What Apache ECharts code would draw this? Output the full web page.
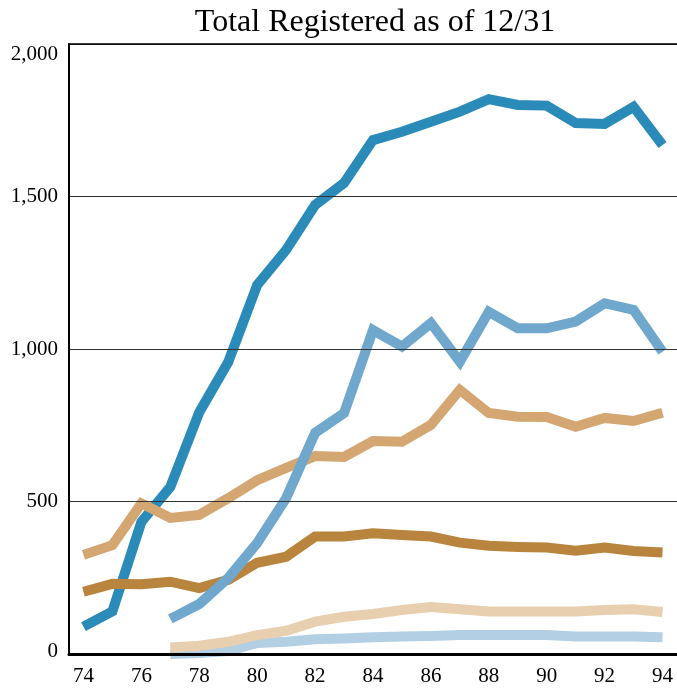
<!DOCTYPE html>
<html>
<head>
<meta charset="utf-8">
<script src="https://cdn.jsdelivr.net/npm/echarts@6/dist/echarts.min.js"></script>
<style>html,body{margin:0;padding:0;background:#fff}#c{width:677px;height:690px}</style>
</head>
<body>
<div id="c"></div>
<script>
var years = ['74','75','76','77','78','79','80','81','82','83','84','85','86','87','88','89','90','91','92','93','94'];
var yTicks = [0, 500, 1000, 1500, 2000];
var darkBlue  = [90, 140, 433, 548, 793, 957, 1210, 1325, 1472, 1544, 1685, 1712, 1745, 1778, 1819, 1800, 1798, 1741, 1738, 1794, 1669];
var tan       = [325, 357, 494, 446, 456, 511, 570, 610, 649, 646, 698, 696, 751, 866, 790, 778, 777, 745, 774, 764, 791];
var brown     = [204, 230, 229, 237, 216, 243, 299, 319, 385, 385, 396, 390, 385, 365, 355, 351, 349, 339, 349, 338, 333];
var midBlue   = [null, null, null, 115, 164, 249, 364, 511, 725, 790, 1062, 1008, 1085, 958, 1122, 1068, 1068, 1090, 1150, 1128, 991];
var lightBlue = [null, null, null, 0, 3, 10, 36, 40, 48, 51, 55, 57, 59, 62, 62, 62, 62, 57, 57, 57, 55];
var lightTan  = [null, null, null, 21, 27, 40, 62, 76, 106, 122, 131, 144, 154, 147, 139, 139, 139, 139, 144, 147, 138];

var FONT = '"Liberation Serif", "DejaVu Serif", serif';
function mk(name, data, color) {
  return { name: name, type: 'line', data: data, symbol: 'none', showSymbol: false,
    lineStyle: { color: color, width: 10, cap: 'butt', join: 'miter' }, silent: true, animation: false };
}
var chart = echarts.init(document.getElementById('c'), null, { renderer: 'canvas' });
chart.setOption({
  animation: false,
  backgroundColor: '#fff',
  title: { text: 'Total Registered as of 12/31', left: 370, textAlign: 'center', top: 2,
    textStyle: { fontFamily: FONT, fontSize: 32, fontWeight: 'normal', color: '#000' } },
  grid: { left: 69, right: 0, top: 44, bottom: 36, containLabel: false },
  xAxis: [{
    type: 'category', data: years, boundaryGap: true,
    axisLine: { show: true, lineStyle: { color: '#000', width: 3 } },
    axisTick: { show: false },
    axisLabel: { interval: 1, fontFamily: FONT, fontSize: 21, color: '#000', margin: 12 },
    splitLine: { show: false }, z: 5
  }, {
    type: 'category', data: years, position: 'top',
    axisLine: { show: true, onZero: false, lineStyle: { color: '#000', width: 1.5 } },
    axisTick: { show: false }, axisLabel: { show: false }, z: 5
  }],
  yAxis: {
    type: 'value', min: 0, max: 2000, interval: 500,
    axisLine: { show: true, lineStyle: { color: '#000', width: 2 } },
    axisTick: { show: false },
    axisLabel: { fontFamily: FONT, fontSize: 21, color: '#000', margin: 11,
      formatter: function (v) {
        var s = v.toLocaleString('en-US');
        if (v === yTicks[yTicks.length - 1]) return '{t|' + s + '}';
        if (v === yTicks[0]) return '{b|' + s + '}';
        return s;
      },
      rich: { t: { fontFamily: FONT, fontSize: 21, padding: [20, 0, 0, 0] },
              b: { fontFamily: FONT, fontSize: 21, padding: [0, 0, 6, 0] } }
    },
    splitLine: { show: true, lineStyle: { color: '#333', width: 1 } },
    z: 5
  },
  series: [
    mk('a', darkBlue, '#2a8ab8'),
    mk('b', tan, '#d3a672'),
    mk('c', brown, '#b8843e'),
    mk('d', midBlue, '#70a8cd'),
    mk('e', lightBlue, '#b3cfe4'),
    mk('f', lightTan, '#e8cfb0')
  ]
});
</script>
</body>
</html>
